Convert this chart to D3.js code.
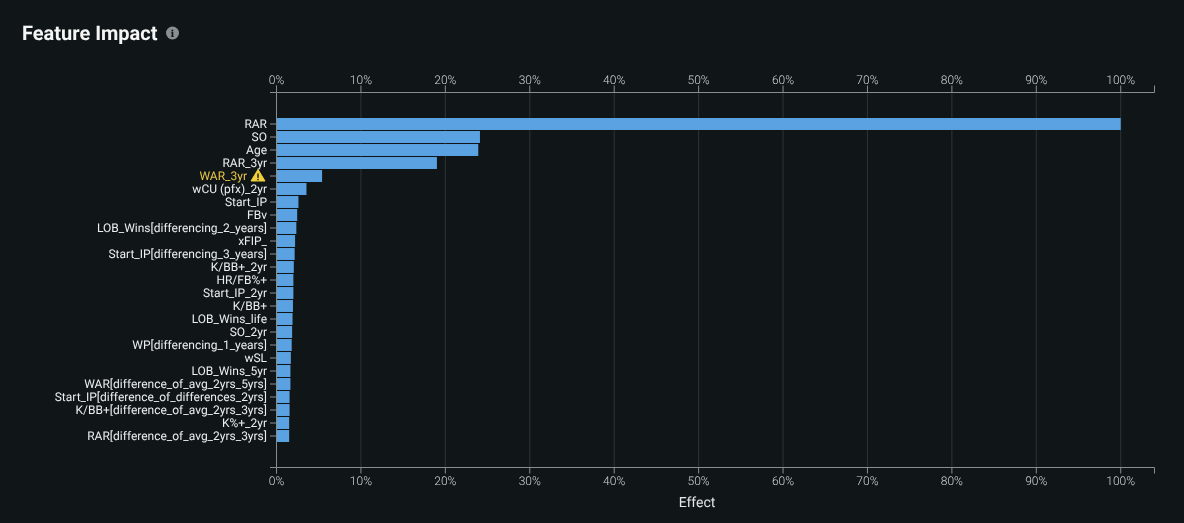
<!DOCTYPE html>
<html>
<head>
<meta charset="utf-8">
<script src="https://cdn.jsdelivr.net/npm/d3@7"></script>
<style>
html, body { margin: 0; padding: 0; background: #101618; overflow: hidden; }
svg { will-change: transform; }
text { font-family: Roboto, sans-serif; text-rendering: geometricPrecision; }
</style>
</head>
<body>
<div id="chart"></div>
<script>
const features = ["RAR", "SO", "Age", "RAR_3yr", "WAR_3yr", "wCU (pfx)_2yr", "Start_IP", "FBv",
    "LOB_Wins[differencing_2_years]", "xFIP_", "Start_IP[differencing_3_years]", "K/BB+_2yr",
    "HR/FB%+", "Start_IP_2yr", "K/BB+", "LOB_Wins_life", "SO_2yr", "WP[differencing_1_years]",
    "wSL", "LOB_Wins_5yr", "WAR[difference_of_avg_2yrs_5yrs]",
    "Start_IP[difference_of_differences_2yrs]", "K/BB+[difference_of_avg_2yrs_3yrs]",
    "K%+_2yr", "RAR[difference_of_avg_2yrs_3yrs]"];
const effects = [100, 24.1, 23.9, 19, 5.4, 3.55, 2.6, 2.45, 2.35, 2.2, 2.15, 2.05, 2.0, 2.0, 1.95,
    1.9, 1.85, 1.8, 1.7, 1.65, 1.65, 1.55, 1.55, 1.5, 1.5];
const tickValues = [0, 10, 20, 30, 40, 50, 60, 70, 80, 90, 100];
const warned = ["WAR_3yr"];

const width = 1184, height = 523;
const plot = { left: 276, right: 1154.5, top: 92.5, bottom: 467.5 };

const svg = d3.select("#chart").append("svg")
    .attr("width", width)
    .attr("height", height)
    .style("display", "block");

const x = d3.scaleLinear().domain([0, 104]).range([plot.left + 0.5, plot.right]);
const y = d3.scaleBand().domain(features).range([117.5, 442.5]).paddingInner(0.08).paddingOuter(0.04);

// title and info icon
svg.append("text")
    .attr("x", 22).attr("y", 39.5)
    .attr("fill", "#f4f5f5")
    .style("font-size", "20px")
    .style("font-weight", 700)
    .text("Feature Impact");
svg.append("circle").attr("cx", 172.5).attr("cy", 33).attr("r", 6.5).attr("fill", "#8b8e8f");
svg.append("text")
    .attr("x", 172.5).attr("y", 36.5)
    .attr("text-anchor", "middle")
    .attr("fill", "#101618")
    .style("font-family", "'DejaVu Serif', serif")
    .style("font-size", "10px")
    .style("font-weight", 700)
    .text("i");

// gridlines
svg.append("g").selectAll("line")
    .data(tickValues.slice(1))
    .enter().append("line")
    .attr("x1", d => x(d)).attr("x2", d => x(d))
    .attr("y1", plot.top).attr("y2", plot.bottom)
    .attr("stroke", "#2e3436");

// bars
svg.append("g").selectAll("rect")
    .data(features)
    .enter().append("rect")
    .attr("x", x(0))
    .attr("y", d => y(d))
    .attr("width", (d, i) => x(effects[i]) - x(0))
    .attr("height", y.bandwidth())
    .attr("fill", "#5aa2e2");

function styleAxis(g) {
    g.selectAll("path, line").attr("stroke", "#8a8d8e");
    g.selectAll("text")
        .attr("fill", "#d2d4d5")
        .style("font-size", "12px")
        .style("font-weight", 300)
        .style("font-family", "Roboto, sans-serif");
}

// x axes
const axisTop = d3.axisTop(x).tickValues(tickValues).tickFormat(d => d + "%").offset(0).tickSize(7).tickSizeOuter(7).tickPadding(2);
svg.append("g").attr("transform", `translate(0,${plot.top})`).call(axisTop).call(styleAxis);

const axisBottom = d3.axisBottom(x).tickValues(tickValues).tickFormat(d => d + "%").offset(0).tickSize(6).tickSizeOuter(6).tickPadding(3);
svg.append("g").attr("transform", `translate(0,${plot.bottom})`).call(axisBottom).call(styleAxis);

// left edge
svg.append("line")
    .attr("x1", plot.left + 0.5).attr("x2", plot.left + 0.5)
    .attr("y1", plot.top).attr("y2", plot.bottom)
    .attr("stroke", "#8a8d8e");
svg.append("line").attr("x1", plot.left - 6).attr("x2", plot.left).attr("y1", plot.top).attr("y2", plot.top).attr("stroke", "#8a8d8e");
svg.append("line").attr("x1", plot.left - 6).attr("x2", plot.left).attr("y1", plot.bottom).attr("y2", plot.bottom).attr("stroke", "#8a8d8e");

// y axis
const axisLeft = d3.axisLeft(y).tickSize(6).tickSizeOuter(0).tickPadding(3);
const yAxis = svg.append("g").attr("transform", `translate(${plot.left},0)`).call(axisLeft).call(styleAxis);
yAxis.select(".domain").remove();
yAxis.selectAll("text").attr("fill", "#eceeee").style("font-weight", 400);

// flagged feature: label moved left of a warning triangle
yAxis.selectAll(".tick")
    .filter(d => warned.includes(d))
    .each(function() {
        const tick = d3.select(this);
        tick.select("text").attr("x", -29).attr("fill", "#e8c547");
        tick.append("path")
            .attr("d", "M-25,5 L-18,-6.5 L-11,5 Z")
            .attr("fill", "#f2cf3c")
            .attr("stroke", "#f2cf3c")
            .attr("stroke-linejoin", "round");
        tick.append("rect").attr("x", -18.7).attr("y", -2.5).attr("width", 1.4).attr("height", 4.4).attr("fill", "#101618");
        tick.append("rect").attr("x", -18.7).attr("y", 2.8).attr("width", 1.4).attr("height", 1.5).attr("fill", "#101618");
    });

// axis label
svg.append("text")
    .attr("x", 697).attr("y", 507)
    .attr("text-anchor", "middle")
    .attr("fill", "#e4e6e6")
    .style("font-size", "14px")
    .text("Effect");
</script>
</body>
</html>
